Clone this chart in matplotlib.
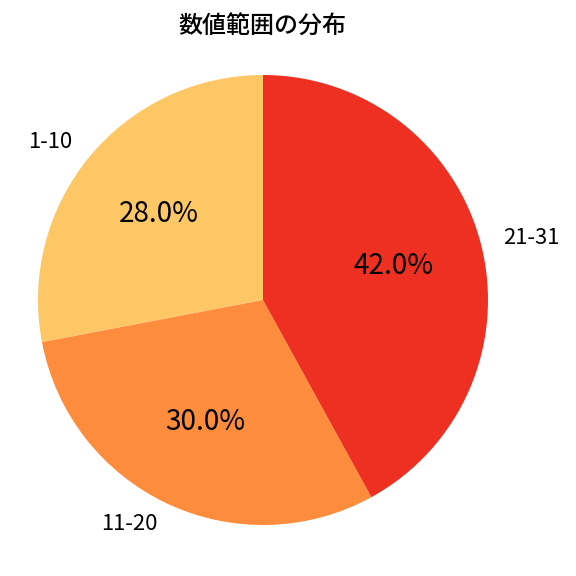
import matplotlib
matplotlib.use("Agg")
import matplotlib.pyplot as plt

plt.rcParams['font.family'] = ['Noto Sans CJK JP', 'DejaVu Sans']

labels = ['1-10', '11-20', '21-31']
values = [28.0, 30.0, 42.0]
colors = ['#FDC765', '#FD8D3C', '#EE3023']
title = '数値範囲の分布'

W = H = 576
fig = plt.figure(figsize=(6, 6), dpi=96)
R = 225.0
cx, cy = 263.0, 576 - 300.0
lim = 1.15
size = 2 * lim * R
ax = fig.add_axes([(cx - size / 2) / W, (cy - size / 2) / H, size / W, size / H])
wedges, texts, autotexts = ax.pie(values, labels=labels, colors=colors, startangle=90,
                                  autopct='%1.1f%%', pctdistance=0.6, labeldistance=1.1,
                                  textprops={'fontsize': 16.5})
for t in autotexts:
    t.set_fontsize(21)
ax.set_xlim(-lim, lim)
ax.set_ylim(-lim, lim)
ax.set_aspect('equal')
fig.text(262.5 / W, 1 - 27 / H, title, fontsize=18, ha='center', va='center', fontweight='medium')
fig.savefig('out.png', dpi=96)
